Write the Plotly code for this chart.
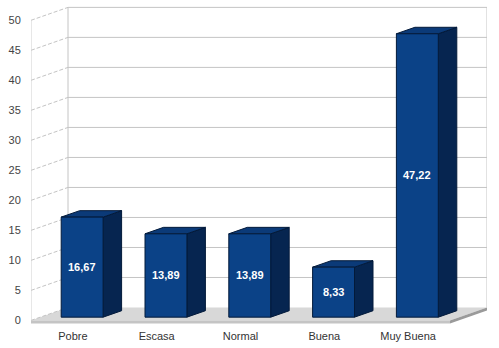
import plotly.graph_objects as go

categories = ["Pobre", "Escasa", "Normal", "Buena", "Muy Buena"]
values = [16.67, 13.89, 13.89, 8.33, 47.22]
labels = ["16,67", "13,89", "13,89", "8,33", "47,22"]
yticks = [0, 5, 10, 15, 20, 25, 30, 35, 40, 45, 50]

# 3D depth offsets in axis units
DX = 0.4415
DY = 2.15
YMAX = 50
n = len(categories)

def poly(pts):
    return "M " + " L ".join(f"{x},{y}" for x, y in pts) + " Z"

shapes = []
grid = "#c4c4c4"
# floor slab
shapes.append(dict(type="path", path=poly([(0, 0), (n, 0), (n + DX, DY), (DX, DY)]),
                   fillcolor="#d8d8d8", line=dict(width=0), layer="below"))
shapes.append(dict(type="path", path=poly([(0, 0), (n, 0), (n, -0.5), (0, -0.5)]),
                   fillcolor="#c4c4c4", line=dict(width=0), layer="below"))
shapes.append(dict(type="path", path=poly([(n, 0), (n + DX, DY), (n + DX, DY - 0.5), (n, -0.5)]),
                   fillcolor="#9a9a9a", line=dict(width=0), layer="below"))
# back wall grid lines and left wall dashed lines
for v in yticks:
    if v > 0:
        shapes.append(dict(type="line", x0=DX, x1=n + DX, y0=v + DY, y1=v + DY,
                           line=dict(color=grid, width=1), layer="below"))
    shapes.append(dict(type="line", x0=0, x1=DX, y0=v, y1=v + DY,
                       line=dict(color=grid, width=1, dash="4px,2px"), layer="below"))
# wall edges
shapes.append(dict(type="line", x0=DX, x1=DX, y0=DY, y1=YMAX + DY, line=dict(color=grid, width=1), layer="below"))
shapes.append(dict(type="line", x0=n + DX, x1=n + DX, y0=DY, y1=YMAX + DY, line=dict(color=grid, width=1), layer="below"))
shapes.append(dict(type="line", x0=0, x1=0, y0=0, y1=YMAX, line=dict(color="#d0d0d0", width=1), layer="below"))

annotations = []
hw = 0.25
d0, d1 = 0.25, 0.75
for i, v in enumerate(values):
    c = i + 0.5
    fx0, fx1 = c - hw + d0 * DX, c + hw + d0 * DX
    fy0, fy1 = d0 * DY, v + d0 * DY
    bdx, bdy = (d1 - d0) * DX, (d1 - d0) * DY
    # side face
    shapes.append(dict(type="path", path=poly([(fx1, fy0), (fx1 + bdx, fy0 + bdy), (fx1 + bdx, fy1 + bdy), (fx1, fy1)]),
                       fillcolor="#062550", line=dict(color="#031a3a", width=1), layer="above"))
    # top face
    shapes.append(dict(type="path", path=poly([(fx0, fy1), (fx1, fy1), (fx1 + bdx, fy1 + bdy), (fx0 + bdx, fy1 + bdy)]),
                       fillcolor="#0b3a78", line=dict(color="#031a3a", width=1), layer="above"))
    # front face
    shapes.append(dict(type="path", path=poly([(fx0, fy0), (fx1, fy0), (fx1, fy1), (fx0, fy1)]),
                       fillcolor="#0b4287", line=dict(color="#031a3a", width=1), layer="above"))
    annotations.append(dict(x=(fx0 + fx1) / 2, y=(fy0 + fy1) / 2, text=f"<b>{labels[i]}</b>",
                            showarrow=False, font=dict(color="white", size=11, family="Liberation Sans")))

fig = go.Figure()
fig.add_trace(go.Scatter(x=[0, n + DX], y=[0, 0], mode="markers", marker=dict(opacity=0), hoverinfo="skip", showlegend=False))
fig.update_layout(
    width=499, height=348,
    margin=dict(l=31, r=12, t=6, b=22),
    paper_bgcolor="white", plot_bgcolor="white",
    shapes=shapes, annotations=annotations,
    showlegend=False,
    xaxis=dict(range=[0, n + DX], tickvals=[i + 0.5 for i in range(n)], ticktext=categories,
               showgrid=False, zeroline=False, showline=False, ticks="outside", ticklen=2,
               tickcolor="rgba(0,0,0,0)", tickfont=dict(size=11, color="#333333", family="Liberation Sans")),
    yaxis=dict(range=[-0.6, 52.38], tickvals=yticks, ticktext=[str(t) for t in yticks],
               showgrid=False, zeroline=False, showline=False, ticks="outside", ticklen=7,
               tickcolor="rgba(0,0,0,0)", tickfont=dict(size=11, color="#444444", family="Liberation Sans")),
)
fig.write_html("out.html")
